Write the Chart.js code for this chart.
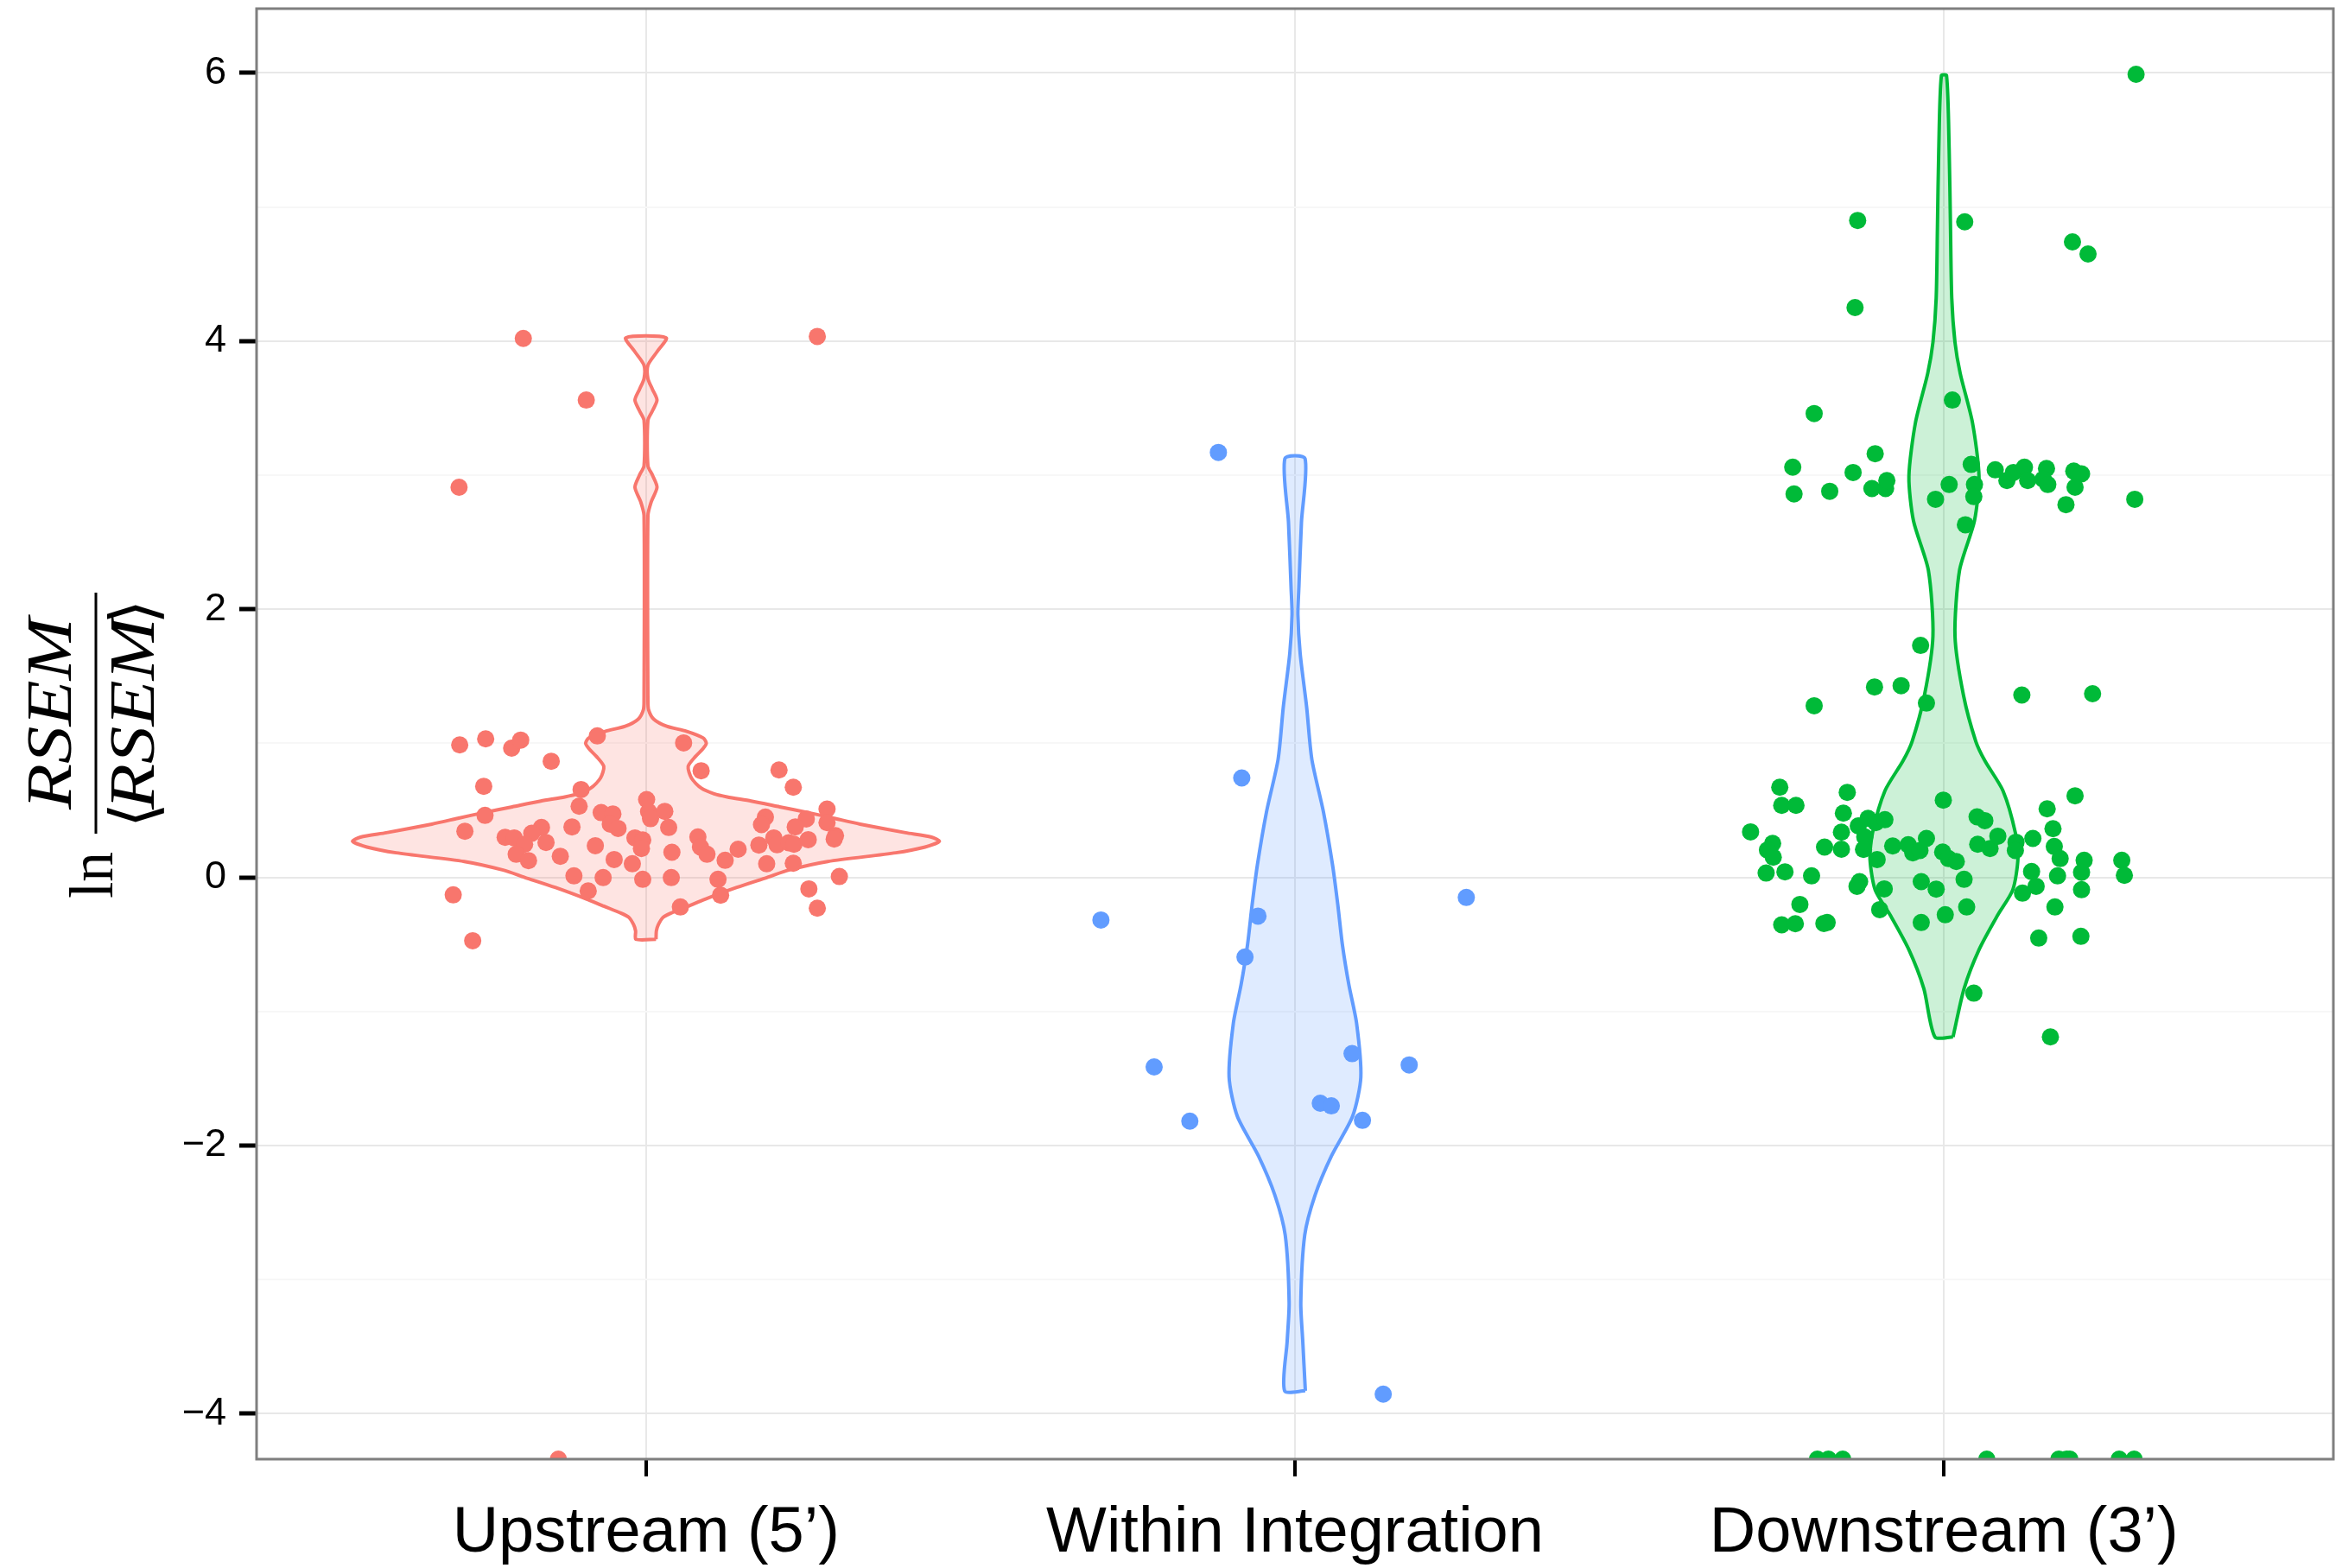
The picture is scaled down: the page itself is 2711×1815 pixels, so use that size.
<!DOCTYPE html>
<html>
<head>
<meta charset="utf-8">
<script src="https://cdn.jsdelivr.net/npm/chart.js@4.4.1/dist/chart.umd.min.js"></script>
<style>
  body { margin: 0; background: #fff; }
  canvas { display: block; }
</style>
</head>
<body>
<canvas id="violinChart" width="2711" height="1815"></canvas>
<script>
// Categories and axis

const categories = ['Upstream (5’)', 'Within Integration', 'Downstream (3’)'];
const categoryPositions = [1, 2, 3];
const majorTicks = [-4, -2, 0, 2, 4, 6];
const minorTicks = [-3, -1, 1, 3, 5];
const yMin = -4.34;
const yMax = 6.48;

// Upstream points (jitter offset from category, value)

const upJitter = [-0.189, 0.264, -0.092, -0.288,
  -0.287, -0.247, -0.207, -0.193, -0.146, -0.250, -0.075, 0.058, 0.085, 0.205,
  0.227, -0.100, 0.001, -0.103, -0.248, -0.279, -0.069, -0.051, 0.004, 0.029,
  0.007, -0.055, -0.043, 0.035, -0.161, -0.114, 0.279, 0.184, 0.178, 0.247,
  0.230, 0.279, 0.292, 0.290, -0.217, -0.203, -0.176, -0.187, -0.154, -0.200,
  -0.181, -0.132, -0.078, -0.049, -0.021, -0.017, -0.005, -0.007, 0.040, 0.080,
  0.084, 0.094, 0.122, 0.142, 0.174, 0.197, 0.202, 0.220, 0.228, 0.250,
  0.186, 0.227, -0.111, -0.066, -0.005, 0.039, 0.111, -0.089, 0.115, 0.053,
  0.298, 0.251, 0.264, -0.297, -0.267];
const upValues = [4.02, 4.035, 3.56, 2.91,
  0.988, 1.033, 0.964, 1.024, 0.866, 0.679, 1.055, 1.003, 0.795, 0.801,
  0.672, 0.655, 0.580, 0.530, 0.462, 0.344, 0.483, 0.473, 0.490, 0.492,
  0.438, 0.397, 0.365, 0.372, 0.372, 0.376, 0.509, 0.449, 0.393, 0.436,
  0.376, 0.408, 0.311, 0.286, 0.299, 0.294, 0.329, 0.247, 0.260, 0.172,
  0.125, 0.157, 0.236, 0.133, 0.101, 0.294, 0.279, 0.215, 0.187, 0.301,
  0.226, 0.172, 0.127, 0.210, 0.241, 0.294, 0.243, 0.258, 0.247, 0.281,
  0.101, 0.105, 0.011, -0.002, -0.015, -0.002, -0.015, -0.101, -0.133, -0.221,
  0.006, -0.086, -0.230, -0.131, -0.473];
const upFloorJitter = [-0.135];

// Within integration points

const wiJitter = [-0.118, -0.082, -0.299, 0.264, -0.057, -0.077, -0.217, -0.162, 0.088, 0.176, 0.039, 0.056, 0.104, 0.136];
const wiValues = [3.17, 0.741, -0.318, -0.150, -0.289, -0.595, -1.414, -1.819, -1.315, -1.399, -1.685, -1.705, -1.813, -3.855];

// Downstream points

const dnJitter = [0.296, -0.133, 0.032, 0.198, 0.222, -0.137,
  0.013, -0.200, -0.233, -0.106, -0.140, -0.231, -0.176, -0.111, -0.090, -0.088,
  0.042, 0.008, -0.013, 0.047, 0.046, 0.079, 0.097, 0.107, 0.124, 0.129,
  0.158, 0.153, 0.160, 0.200, 0.212, 0.202, 0.188, 0.294, 0.033,
  -0.036, -0.200, -0.107, -0.066, -0.027, 0.120, 0.229,
  -0.253, -0.250, -0.228, -0.298, -0.264, -0.272, -0.263, -0.274, -0.245, -0.204,
  -0.222, -0.250, -0.229, -0.185, -0.180, -0.149, -0.155, -0.158, -0.184, -0.158,
  -0.132, -0.117, -0.105, -0.091, -0.122, -0.124, -0.103, -0.130, -0.134, -0.092,
  -0.099, -0.079, -0.055, -0.048, -0.037, -0.027, -0.001, -0.002, 0.007, 0.019,
  -0.035, -0.012, 0.031, 0.035, 0.002, -0.035, 0.051, 0.063, 0.052, 0.071,
  0.083, 0.111, 0.110, 0.137, 0.135, 0.142, 0.121, 0.159, 0.168, 0.170,
  0.179, 0.175, 0.171, 0.202, 0.216, 0.212, 0.212, 0.146, 0.211, 0.274,
  0.278, 0.046, 0.164];
const dnValues = [5.99, 4.90, 4.89, 4.74, 4.65, 4.25,
  3.56, 3.46, 3.06, 3.16, 3.02, 2.86, 2.88, 2.90, 2.90, 2.96,
  3.08, 2.93, 2.82, 2.93, 2.84, 3.04, 2.96, 3.02, 3.06, 2.96,
  3.05, 2.97, 2.93, 3.03, 3.01, 2.91, 2.78, 2.82, 2.63,
  1.73, 1.28, 1.42, 1.43, 1.30, 1.36, 1.37,
  0.672, 0.537, 0.537, 0.339, 0.253, 0.204, 0.150, 0.032, 0.041, 0.011,
  -0.202, -0.354, -0.346, -0.344, -0.337, 0.634, 0.479, 0.337, 0.226, 0.210,
  0.384, 0.440, 0.408, 0.430, 0.301, 0.208, 0.133, -0.032, -0.067, -0.086,
  -0.241, 0.234, 0.243, 0.183, 0.200, 0.290, 0.576, 0.189, 0.140, 0.118,
  -0.032, -0.088, -0.015, -0.221, -0.279, -0.337, 0.451, 0.423, 0.247, 0.215,
  0.307, 0.262, 0.200, 0.290, 0.043, -0.067, -0.118, 0.511, 0.363, 0.230,
  0.140, 0.011, -0.221, 0.608, 0.127, 0.037, -0.092, -0.453, -0.440, 0.127,
  0.015, -0.864, -1.19];
const dnFloorJitter = [-0.195, -0.178, -0.156, 0.066, 0.177, 0.189, 0.194, 0.270, 0.293];

// Violin outlines (value, half width)

const upViolinY = [-0.462, -0.40, -0.354, -0.30, -0.268, -0.215, -0.161, -0.075, 0.0, 0.054, 0.118, 0.183, 0.226, 0.268,
  0.30, 0.333, 0.397, 0.44, 0.483, 0.526, 0.569, 0.60, 0.623, 0.666, 0.741, 0.827, 0.90, 0.96, 1.00, 1.04,
  1.09, 1.127, 1.18, 1.25, 1.32, 2.70, 2.80, 2.91, 3.00, 3.07, 3.41, 3.48, 3.56, 3.64, 3.72, 3.82, 3.92, 4.025];
const upViolinHalf = [0.0155, 0.016, 0.019, 0.026, 0.038, 0.065, 0.092, 0.14, 0.187, 0.22, 0.28, 0.385, 0.43, 0.452,
  0.44, 0.40, 0.33, 0.29, 0.25, 0.206, 0.162, 0.125, 0.105, 0.085, 0.070, 0.065, 0.076, 0.088, 0.093, 0.088,
  0.062, 0.032, 0.012, 0.004, 0.003, 0.003, 0.008, 0.017, 0.010, 0.003, 0.003, 0.010, 0.017, 0.010, 0.003, 0.003, 0.017, 0.031];

const wiViolinY = [-3.83, -3.46, -3.17, -2.67, -2.37, -2.08, -1.78, -1.49, -1.09, -0.80, -0.50, -0.205, 0.09, 0.485,
  0.88, 1.27, 1.67, 1.96, 2.16, 2.65, 3.124];
const wiViolinHalf = [0.016, 0.012, 0.009, 0.015, 0.031, 0.056, 0.089, 0.1015, 0.095, 0.083, 0.073, 0.066, 0.058, 0.044,
  0.026, 0.018, 0.008, 0.0045, 0.006, 0.010, 0.0155];

const dnViolinY = [-1.19, -0.83, -0.54, -0.28, -0.094, 0.14, 0.333, 0.645, 0.87, 1.015, 1.36, 1.80, 2.29, 2.66,
  2.99, 3.39, 3.76, 3.99, 4.32, 4.87, 5.43, 5.98];
const dnViolinHalf = [0.014, 0.031, 0.054, 0.083, 0.106, 0.114, 0.110, 0.091, 0.063, 0.049, 0.030, 0.017, 0.024, 0.047,
  0.054, 0.044, 0.025, 0.017, 0.012, 0.010, 0.008, 0.004];

// Colours

const colors = ['#F8766D', '#619CFF', '#00BA38'];
const fills = ['rgba(248,118,109,0.2)', 'rgba(97,156,255,0.2)', 'rgba(0,186,56,0.2)'];

function pointsOf(center, jitter, values)
{
  return jitter.map((j, i) => ({ x: center + j, y: values[i] }));
}

function floorPoints(center, jitter)
{
  return jitter.map(j => ({ x: center + j, y: yMin }));
}

function violinOutline(center, ys, halves)
{
  const right = ys.map((y, i) => ({ x: center + halves[i], y: y }));
  const left = ys.map((y, i) => ({ x: center - halves[i], y: y })).reverse();
  return right.concat(left, [right[0]]);
}

function violinDataset(k, ys, halves)
{
  return {
    type: 'scatter',
    data: violinOutline(categoryPositions[k], ys, halves),
    showLine: true,
    fill: 'shape',
    backgroundColor: fills[k],
    borderColor: colors[k],
    borderWidth: 4,
    pointRadius: 0,
    tension: 0.25,
    order: 1
  };
}

function pointDataset(k, pts)
{
  return {
    type: 'scatter',
    data: pts,
    backgroundColor: colors[k],
    borderWidth: 0,
    pointRadius: 10,
    pointHoverRadius: 10,
    clip: 0,
    order: 0
  };
}

// Panel border and y-axis title

const panelBorder =
{
  id: 'panelBorder',
  afterDatasetsDraw(chart)
  {
    const a = chart.chartArea;
    const ctx = chart.ctx;
    ctx.save();
    ctx.strokeStyle = '#7F7F7F';
    ctx.lineWidth = 3;
    ctx.strokeRect(a.left, a.top, a.right - a.left, a.bottom - a.top);
    ctx.restore();
  }
};

// draws text stretched along the reading direction to a given length
function stretchedText(ctx, text, u, v, length)
{
  const w = ctx.measureText(text).width;
  ctx.save();
  ctx.translate(u, v);
  ctx.scale(length / w, 1);
  ctx.fillText(text, 0, 0);
  ctx.restore();
}

const yTitle =
{
  id: 'yTitle',
  afterDraw(chart)
  {
    const ctx = chart.ctx;
    const mid = -826;
    ctx.save();
    ctx.rotate(-Math.PI / 2);
    ctx.fillStyle = '#000';
    ctx.strokeStyle = '#000';
    ctx.textBaseline = 'alphabetic';
    ctx.textAlign = 'left';

    ctx.font = '72px "Liberation Serif"';
    stretchedText(ctx, 'ln', -1040, 130, 54);

    ctx.lineWidth = 3;
    ctx.beginPath();
    ctx.moveTo(-965, 111);
    ctx.lineTo(-686, 111);
    ctx.stroke();

    ctx.font = 'italic 74px "Liberation Serif"';
    stretchedText(ctx, 'RSEM', mid - 111, 82, 222);

    // denominator with angle brackets
    ctx.font = '74px "DejaVu Sans", "DejaVu Serif"';
    const wOpen = ctx.measureText('⟨').width;
    const start = mid - 132;
    ctx.fillText('⟨', start, 180);
    ctx.fillText('⟩', start + 264 - wOpen, 180);
    ctx.font = 'italic 74px "Liberation Serif"';
    stretchedText(ctx, 'RSEM', mid - 111, 178, 222);
    ctx.restore();
  }
};

Chart.defaults.font.family = '"Liberation Sans", Arial, sans-serif';
Chart.defaults.color = '#000';

const ctx = document.getElementById('violinChart');

new Chart(ctx,
{
  type: 'scatter',
  data:
  {
    datasets:
    [
      pointDataset(0, pointsOf(1, upJitter, upValues).concat(floorPoints(1, upFloorJitter))),
      pointDataset(1, pointsOf(2, wiJitter, wiValues)),
      pointDataset(2, pointsOf(3, dnJitter, dnValues).concat(floorPoints(3, dnFloorJitter))),
      violinDataset(0, upViolinY, upViolinHalf),
      violinDataset(1, wiViolinY, wiViolinHalf),
      violinDataset(2, dnViolinY, dnViolinHalf)
    ]
  },
  options:
  {
    responsive: false,
    animation: false,
    devicePixelRatio: 1,
    layout: { padding: { top: 10, right: 2, left: 0, bottom: 0 } },
    plugins:
    {
      legend: { display: false },
      tooltip: { enabled: false },
      title: { display: false }
    },
    scales:
    {
      x:
      {
        type: 'linear',
        min: 0.4,
        max: 3.6,
        afterFit: s => { s.height = 126; s.paddingLeft = 0; s.paddingRight = 0; },
        afterBuildTicks: s => { s.ticks = categoryPositions.map(v => ({ value: v })); },
        border: { display: false },
        grid:
        {
          color: '#E8E8E8',
          lineWidth: 2,
          tickColor: '#000',
          tickWidth: 4,
          tickLength: 20
        },
        ticks:
        {
          autoSkip: false,
          maxRotation: 0,
          padding: 22,
          color: '#000',
          font: { size: 74 },
          callback: (value, index) => categories[index]
        }
      },
      y:
      {
        type: 'linear',
        min: yMin,
        max: yMax,
        afterFit: s => { s.width = 297; s.paddingTop = 0; s.paddingBottom = 0; },
        afterBuildTicks: s =>
        {
          s.ticks = majorTicks.concat(minorTicks).sort((a, b) => a - b).map(v => ({ value: v }));
        },
        border: { display: false },
        grid:
        {
          color: c => (majorTicks.includes(c.tick.value) ? '#E8E8E8' : '#F7F7F7'),
          lineWidth: 2,
          tickColor: c => (majorTicks.includes(c.tick.value) ? '#000' : 'rgba(0,0,0,0)'),
          tickWidth: 5,
          tickLength: 20
        },
        ticks:
        {
          autoSkip: false,
          padding: 15,
          color: '#000',
          font: { size: 45 },
          callback: value => (majorTicks.includes(value) ? String(value).replace('-', '−') : '')
        }
      }
    }
  },
  plugins: [panelBorder, yTitle]
});
</script>
</body>
</html>
